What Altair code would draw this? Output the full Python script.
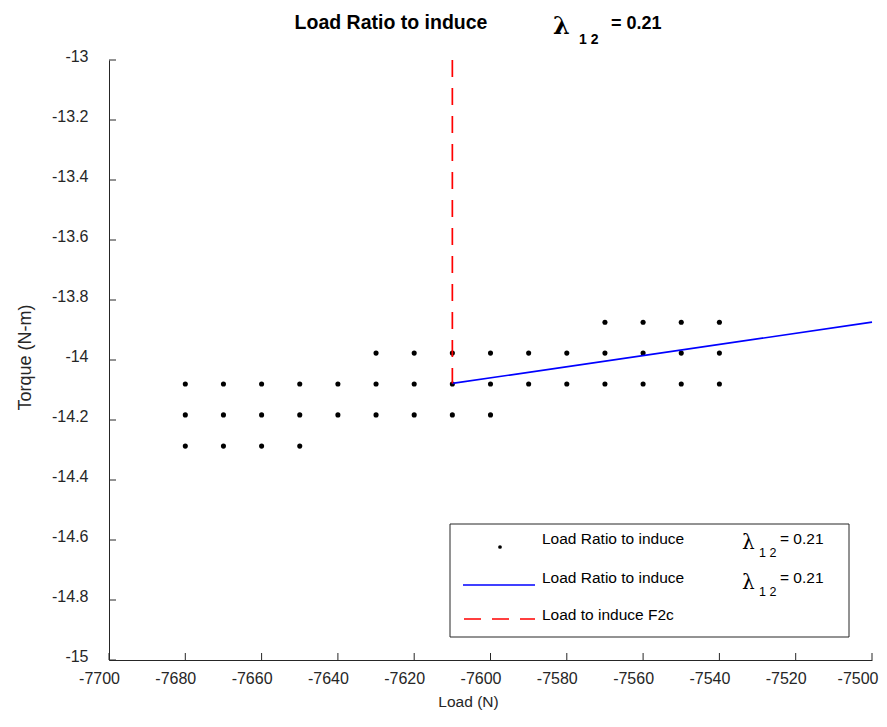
import altair as alt
import pandas as pd

# ---- data ----
load_grid = [-7680, -7670, -7660, -7650, -7640, -7630, -7620, -7610,
             -7600, -7590, -7580, -7570, -7560, -7550, -7540]
row_torque = [-13.874, -13.977, -14.080, -14.183, -14.287]
# for each torque row: which loads carry a point
row_loads = [
    [-7570, -7560, -7550, -7540],
    [-7630, -7620, -7610, -7600, -7590, -7580, -7570, -7560, -7550, -7540],
    load_grid,
    [-7680, -7670, -7660, -7650, -7640, -7630, -7620, -7610, -7600],
    [-7680, -7670, -7660, -7650],
]
fit_load = [-7610, -7500]
fit_torque = [-14.078, -13.874]
f2c_load = [-7610, -7610]
f2c_torque = [-13.0, -14.078]

x_ticks = [-7700, -7680, -7660, -7640, -7620, -7600, -7580, -7560, -7540, -7520, -7500]
y_ticks = [-15, -14.8, -14.6, -14.4, -14.2, -14, -13.8, -13.6, -13.4, -13.2, -13]

title_text = "Load Ratio to induce"
lambda_text = "λ"
sub_text = "1 2"
value_text = "= 0.21"
legend_labels = ["Load Ratio to induce", "Load Ratio to induce", "Load to induce F2c"]

# ---- frames ----
pts = pd.DataFrame([{"load": l, "torque": t}
                    for t, ls in zip(row_torque, row_loads) for l in ls])
fit = pd.DataFrame({"load": fit_load, "torque": fit_torque})
f2c = pd.DataFrame({"load": f2c_load, "torque": f2c_torque})
xt = pd.DataFrame({"load": x_ticks})
yt = pd.DataFrame({"torque": y_ticks})

W, H = 763, 600
FONT = "Liberation Sans"
SERIF = "DejaVu Serif"
INK = "#262626"

xs = alt.Scale(domain=[-7700, -7500], nice=False, zero=False)
ys = alt.Scale(domain=[-15, -13], nice=False, zero=False)

last_x = "datum.value == -7500"
xaxis = alt.Axis(values=x_ticks, labelExpr="'' + datum.value", tickSize=0,
                 labelPadding=10,
                 labelOffset={"condition": {"test": last_x, "value": 6}, "value": -10},
                 labelAlign={"condition": {"test": last_x, "value": "right"}, "value": "center"},
                 labelFont=FONT, labelFontSize=16,
                 labelColor=INK, domainColor=INK, grid=False, title="Load (N)",
                 titleFont=FONT, titleFontSize=15.5, titleFontWeight="normal",
                 titleColor=INK, titleX=359, titleY=46, titleBaseline="alphabetic",
                 labelFlush=False, labelOverlap=False)
yaxis = alt.Axis(values=y_ticks, labelExpr="'' + datum.value", tickSize=0,
                 labelPadding=21, labelOffset=-4, labelFont=FONT, labelFontSize=16,
                 labelColor=INK, domainColor=INK, grid=False, title="Torque (N-m)",
                 titleFont=FONT, titleFontSize=18, titleFontWeight="normal",
                 titleColor=INK, titleX=-79, titleY=297, titleAlign="center",
                 titleBaseline="alphabetic", labelFlush=False, labelOverlap=False)

points = alt.Chart(pts).mark_circle(color="black", size=26, opacity=1).encode(
    x=alt.X("load:Q", scale=xs, axis=xaxis),
    y=alt.Y("torque:Q", scale=ys, axis=yaxis),
)

fit_line = alt.Chart(fit).mark_line(color="#0000FF", strokeWidth=1.7).encode(
    x=alt.X("load:Q", scale=xs), y=alt.Y("torque:Q", scale=ys))

f2c_line = alt.Chart(f2c).mark_line(color="#FF0000", strokeWidth=1.7,
                                    strokeDash=[17, 11]).encode(
    x=alt.X("load:Q", scale=xs), y=alt.Y("torque:Q", scale=ys))

# inward tick marks
xticks = alt.Chart(xt).mark_rule(color=INK, strokeWidth=1).encode(
    x=alt.X("load:Q", scale=xs), y=alt.value(H), y2=alt.value(H - 7))
yticks = alt.Chart(yt).mark_rule(color=INK, strokeWidth=1).encode(
    y=alt.Y("torque:Q", scale=ys), x=alt.value(0), x2=alt.value(7))


def txt(s, x, y, size, weight="normal", font=FONT, align="left"):
    return alt.Chart(pd.DataFrame({"t": [s]})).mark_text(
        align=align, baseline="alphabetic", font=font, fontSize=size,
        fontWeight=weight, color="black").encode(
        text="t:N", x=alt.value(x), y=alt.value(y))


title_layers = [
    txt(title_text, 282, -31, 19.5, "bold", align="center"),
    txt(lambda_text, 444, -26, 24, "bold", font=SERIF),
    txt(sub_text, 470, -16, 14, "bold"),
    txt(value_text, 502, -31, 18, "bold"),
]

# legend box
one = pd.DataFrame({"a": [0]})
lg_box = alt.Chart(one).mark_rect(fill="white", stroke=INK, strokeWidth=1).encode(
    x=alt.value(341), x2=alt.value(740), y=alt.value(464), y2=alt.value(577))
lg_dot = alt.Chart(one).mark_circle(color="black", size=14, opacity=1).encode(
    x=alt.value(391), y=alt.value(487))
lg_blue = alt.Chart(one).mark_rule(color="#0000FF", strokeWidth=1.7).encode(
    x=alt.value(354), x2=alt.value(426), y=alt.value(525))
lg_red = alt.Chart(one).mark_rule(color="#FF0000", strokeWidth=1.7,
                                  strokeDash=[17, 11]).encode(
    x=alt.value(355), x2=alt.value(426), y=alt.value(559))

legend_layers = [
    lg_box, lg_dot, lg_blue, lg_red,
    txt(legend_labels[0], 433, 484, 15.5),
    txt(legend_labels[1], 433, 523, 15.5),
    txt(legend_labels[2], 433, 560, 15.5),
    txt(lambda_text, 633, 489, 20, font=SERIF),
    txt(sub_text, 650, 497, 12.5),
    txt(value_text, 671, 484, 15.5),
    txt(lambda_text, 633, 529, 20, font=SERIF),
    txt(sub_text, 650, 536, 12.5),
    txt(value_text, 671, 523, 15.5),
]

chart = alt.layer(points, fit_line, f2c_line, xticks, yticks,
                  *title_layers, *legend_layers).properties(
    width=W, height=H,
    autosize=alt.AutoSizeParams(type="none"),
    padding={"left": 101, "top": 52, "right": 7, "bottom": 52},
    background="white",
).configure_view(stroke=None)

chart.save("out.html", embed_options={"renderer": "svg", "actions": False})
